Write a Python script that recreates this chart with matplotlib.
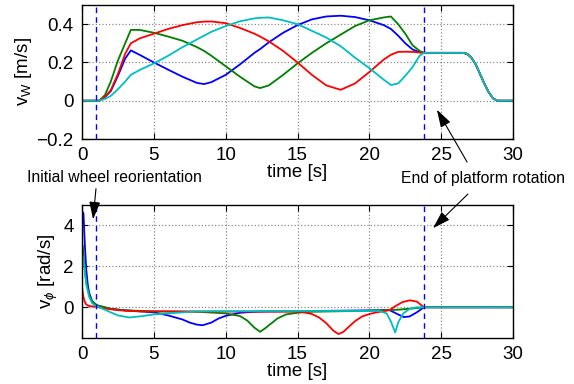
import matplotlib
matplotlib.use('Agg')
import matplotlib.pyplot as plt

plt.rcParams['font.family'] = ['Liberation Sans', 'DejaVu Sans']
plt.rcParams['mathtext.fontset'] = 'custom'
plt.rcParams['mathtext.rm'] = 'Liberation Sans'
plt.rcParams['mathtext.it'] = 'Liberation Sans:italic'
plt.rcParams['font.size'] = 13.5

# wheel speed v_W [m/s]
t_top = [0, 1.2, 1.6, 2.0, 2.5, 3.0, 3.4, 4, 5, 6, 7, 8, 8.5, 9, 10, 11, 12, 12.4, 13, 14, 15, 16, 17, 18,
         19, 20, 21, 21.5, 22, 22.5, 23, 23.5, 23.8]
vw_blue = [0, 0, 0.02, 0.05, 0.13, 0.22, 0.263, 0.24, 0.20, 0.162, 0.125, 0.093, 0.087, 0.097, 0.135, 0.19,
           0.25, 0.27, 0.305, 0.355, 0.395, 0.425, 0.44, 0.444, 0.437, 0.42, 0.395, 0.375, 0.34, 0.30, 0.268,
           0.253, 0.25]
vw_green = [0, 0, 0.03, 0.10, 0.21, 0.30, 0.37, 0.370, 0.355, 0.335, 0.313, 0.28, 0.26, 0.235, 0.18, 0.125,
            0.075, 0.066, 0.08, 0.135, 0.195, 0.25, 0.30, 0.345, 0.39, 0.42, 0.435, 0.44, 0.40, 0.35, 0.29,
            0.26, 0.25]
vw_red = [0, 0, 0.02, 0.055, 0.14, 0.245, 0.30, 0.325, 0.350, 0.375, 0.395, 0.41, 0.413, 0.414, 0.405, 0.38,
          0.35, 0.335, 0.31, 0.26, 0.20, 0.135, 0.08, 0.057, 0.09, 0.15, 0.215, 0.24, 0.255, 0.256, 0.255,
          0.252, 0.25]
vw_cyan = [0, 0, 0.01, 0.025, 0.06, 0.10, 0.135, 0.16, 0.195, 0.235, 0.28, 0.32, 0.34, 0.36, 0.39, 0.415,
           0.43, 0.433, 0.435, 0.42, 0.40, 0.365, 0.33, 0.285, 0.225, 0.17, 0.11, 0.082, 0.09, 0.13, 0.175,
           0.235, 0.25]
# common tail after the platform rotation (all wheels equal)
t_tail = [23.8, 26.5, 26.8, 27.1, 27.4, 27.7, 28.0, 28.3, 28.6, 28.9, 30]
vw_tail = [0.25, 0.25, 0.245, 0.225, 0.19, 0.14, 0.09, 0.045, 0.013, 0, 0]

# steering rate v_phi [rad/s]
t_blue = [0, 0.1, 0.2, 0.3, 0.4, 0.5, 0.7, 1.0, 1.5, 2, 3, 4, 5, 6, 7, 7.5, 8, 8.4, 9, 9.5, 10, 11, 12, 13,
          16, 19, 21.4, 22, 22.4, 22.8, 23.3, 23.8, 30]
vp_blue = [4.7, 4.6, 3.0, 1.8, 1.1, 0.7, 0.3, 0.1, 0.0, -0.08, -0.15, -0.2, -0.25, -0.4, -0.6, -0.75, -0.85,
           -0.88, -0.75, -0.55, -0.42, -0.27, -0.22, -0.2, -0.18, -0.16, -0.14, -0.35, -0.48, -0.45, -0.25, 0, 0]
t_green = [0, 0.05, 0.1, 0.2, 0.3, 0.5, 0.7, 1.0, 1.5, 2, 3, 5, 8, 10, 11, 11.5, 12, 12.4, 12.8, 13.1, 13.6,
           14.2, 15, 16, 20, 22, 23, 23.8, 30]
vp_green = [3.1, 3.0, 2.6, 1.8, 1.2, 0.6, 0.3, 0.1, 0.02, -0.08, -0.15, -0.2, -0.22, -0.3, -0.43, -0.65, -1.0,
            -1.2, -1.0, -0.83, -0.55, -0.35, -0.27, -0.22, -0.17, -0.12, -0.06, 0, 0]
t_red = [0, 0.1, 0.2, 0.3, 0.5, 1.0, 1.5, 2, 3, 4, 10, 15, 15.4, 16, 16.5, 17, 17.5, 17.85, 18.2, 18.5, 19,
         19.5, 20, 20.5, 21.4, 21.8, 22.3, 22.8, 23.3, 23.8, 30]
vp_red = [0.95, 0.5, 0.25, 0.13, 0.06, 0.02, -0.05, -0.1, -0.17, -0.2, -0.21, -0.22, -0.24, -0.33, -0.5, -0.78,
          -1.15, -1.31, -1.2, -1.0, -0.68, -0.45, -0.33, -0.25, -0.14, 0.05, 0.25, 0.34, 0.28, 0, 0]
t_cyan = [0, 0.1, 0.2, 0.3, 0.5, 0.7, 1.0, 1.3, 2, 2.5, 3.3, 4, 5, 6, 7, 8, 14, 20.7, 21.2, 21.5, 21.8, 22.0,
          22.36, 22.8, 23.3, 23.8, 30]
vp_cyan = [2.55, 2.4, 1.7, 1.1, 0.5, 0.2, 0.05, -0.03, -0.25, -0.4, -0.5, -0.45, -0.35, -0.3, -0.25, -0.2,
           -0.18, -0.18, -0.3, -0.7, -1.23, -0.75, -0.3, -0.08, 0, 0, 0]

t_events = [1.0, 23.8]

colors = ['b', (0, 0.5, 0), 'r', (0, 0.75, 0.75)]


def style(ax):
    ax.grid(True, linestyle=':', color='0.55', linewidth=0.9)
    ax.tick_params(direction='in', top=True, right=True, length=4, pad=6, labelsize=13.5)
    for s in ax.spines.values():
        s.set_linewidth(1.0)
    ax.set_xlim(0, 30)
    ax.set_xticks([0, 5, 10, 15, 20, 25, 30])


fig = plt.figure(figsize=(5.74, 3.84), dpi=100)
ax1 = fig.add_axes([0.1429, 0.638, 0.7509, 0.349])
ax2 = fig.add_axes([0.1429, 0.120, 0.7509, 0.346])

for vw, c in zip([vw_blue, vw_green, vw_red, vw_cyan], colors):
    ax1.plot(t_top + t_tail[1:], vw + vw_tail[1:], color=c, lw=1.3)
for te in t_events:
    ax1.axvline(te, color='b', ls='--', lw=1.0, dashes=(4, 3))
ax1.set_ylim(-0.2, 0.5)
ax1.set_yticks([-0.2, 0, 0.2, 0.4])
ax1.set_yticklabels(['\u22120.2', '0', '0.2', '0.4'])
style(ax1)
ax1.set_xlabel('time [s]', labelpad=0)
ax1.set_ylabel('v$_\\mathrm{W}$ [m/s]', labelpad=2)

for tt, vp, c in zip([t_blue, t_green, t_red, t_cyan], [vp_blue, vp_green, vp_red, vp_cyan], colors):
    ax2.plot(tt, vp, color=c, lw=1.3)
for te in t_events:
    ax2.axvline(te, color='b', ls='--', lw=1.0, dashes=(4, 3))
ax2.set_ylim(-1.5, 5)
ax2.set_yticks([0, 2, 4])
style(ax2)
ax2.set_xlabel('time [s]', labelpad=0)
ax2.set_ylabel('v$_\\phi$ [rad/s]', labelpad=2)

arrow = dict(arrowstyle='-|>,head_length=0.8,head_width=0.25', color='k', lw=0.8, shrinkA=0, shrinkB=0)
fig.text(114 / 574, 1 - 177 / 384, 'Initial wheel reorientation', ha='center', va='center', fontsize=11.3)
fig.text(483 / 574, 1 - 179 / 384, 'End of platform rotation', ha='center', va='center', fontsize=11.3)
ax2.annotate('', xy=(0.77, 4.3), xytext=(0.97, 5.8), arrowprops=arrow, annotation_clip=False)
ax1.annotate('', xy=(24.7, -0.047), xytext=(26.8, -0.32), arrowprops=arrow, annotation_clip=False)
ax2.annotate('', xy=(24.43, 3.87), xytext=(26.86, 5.54), arrowprops=arrow, annotation_clip=False)

fig.savefig('out.png', dpi=100)
